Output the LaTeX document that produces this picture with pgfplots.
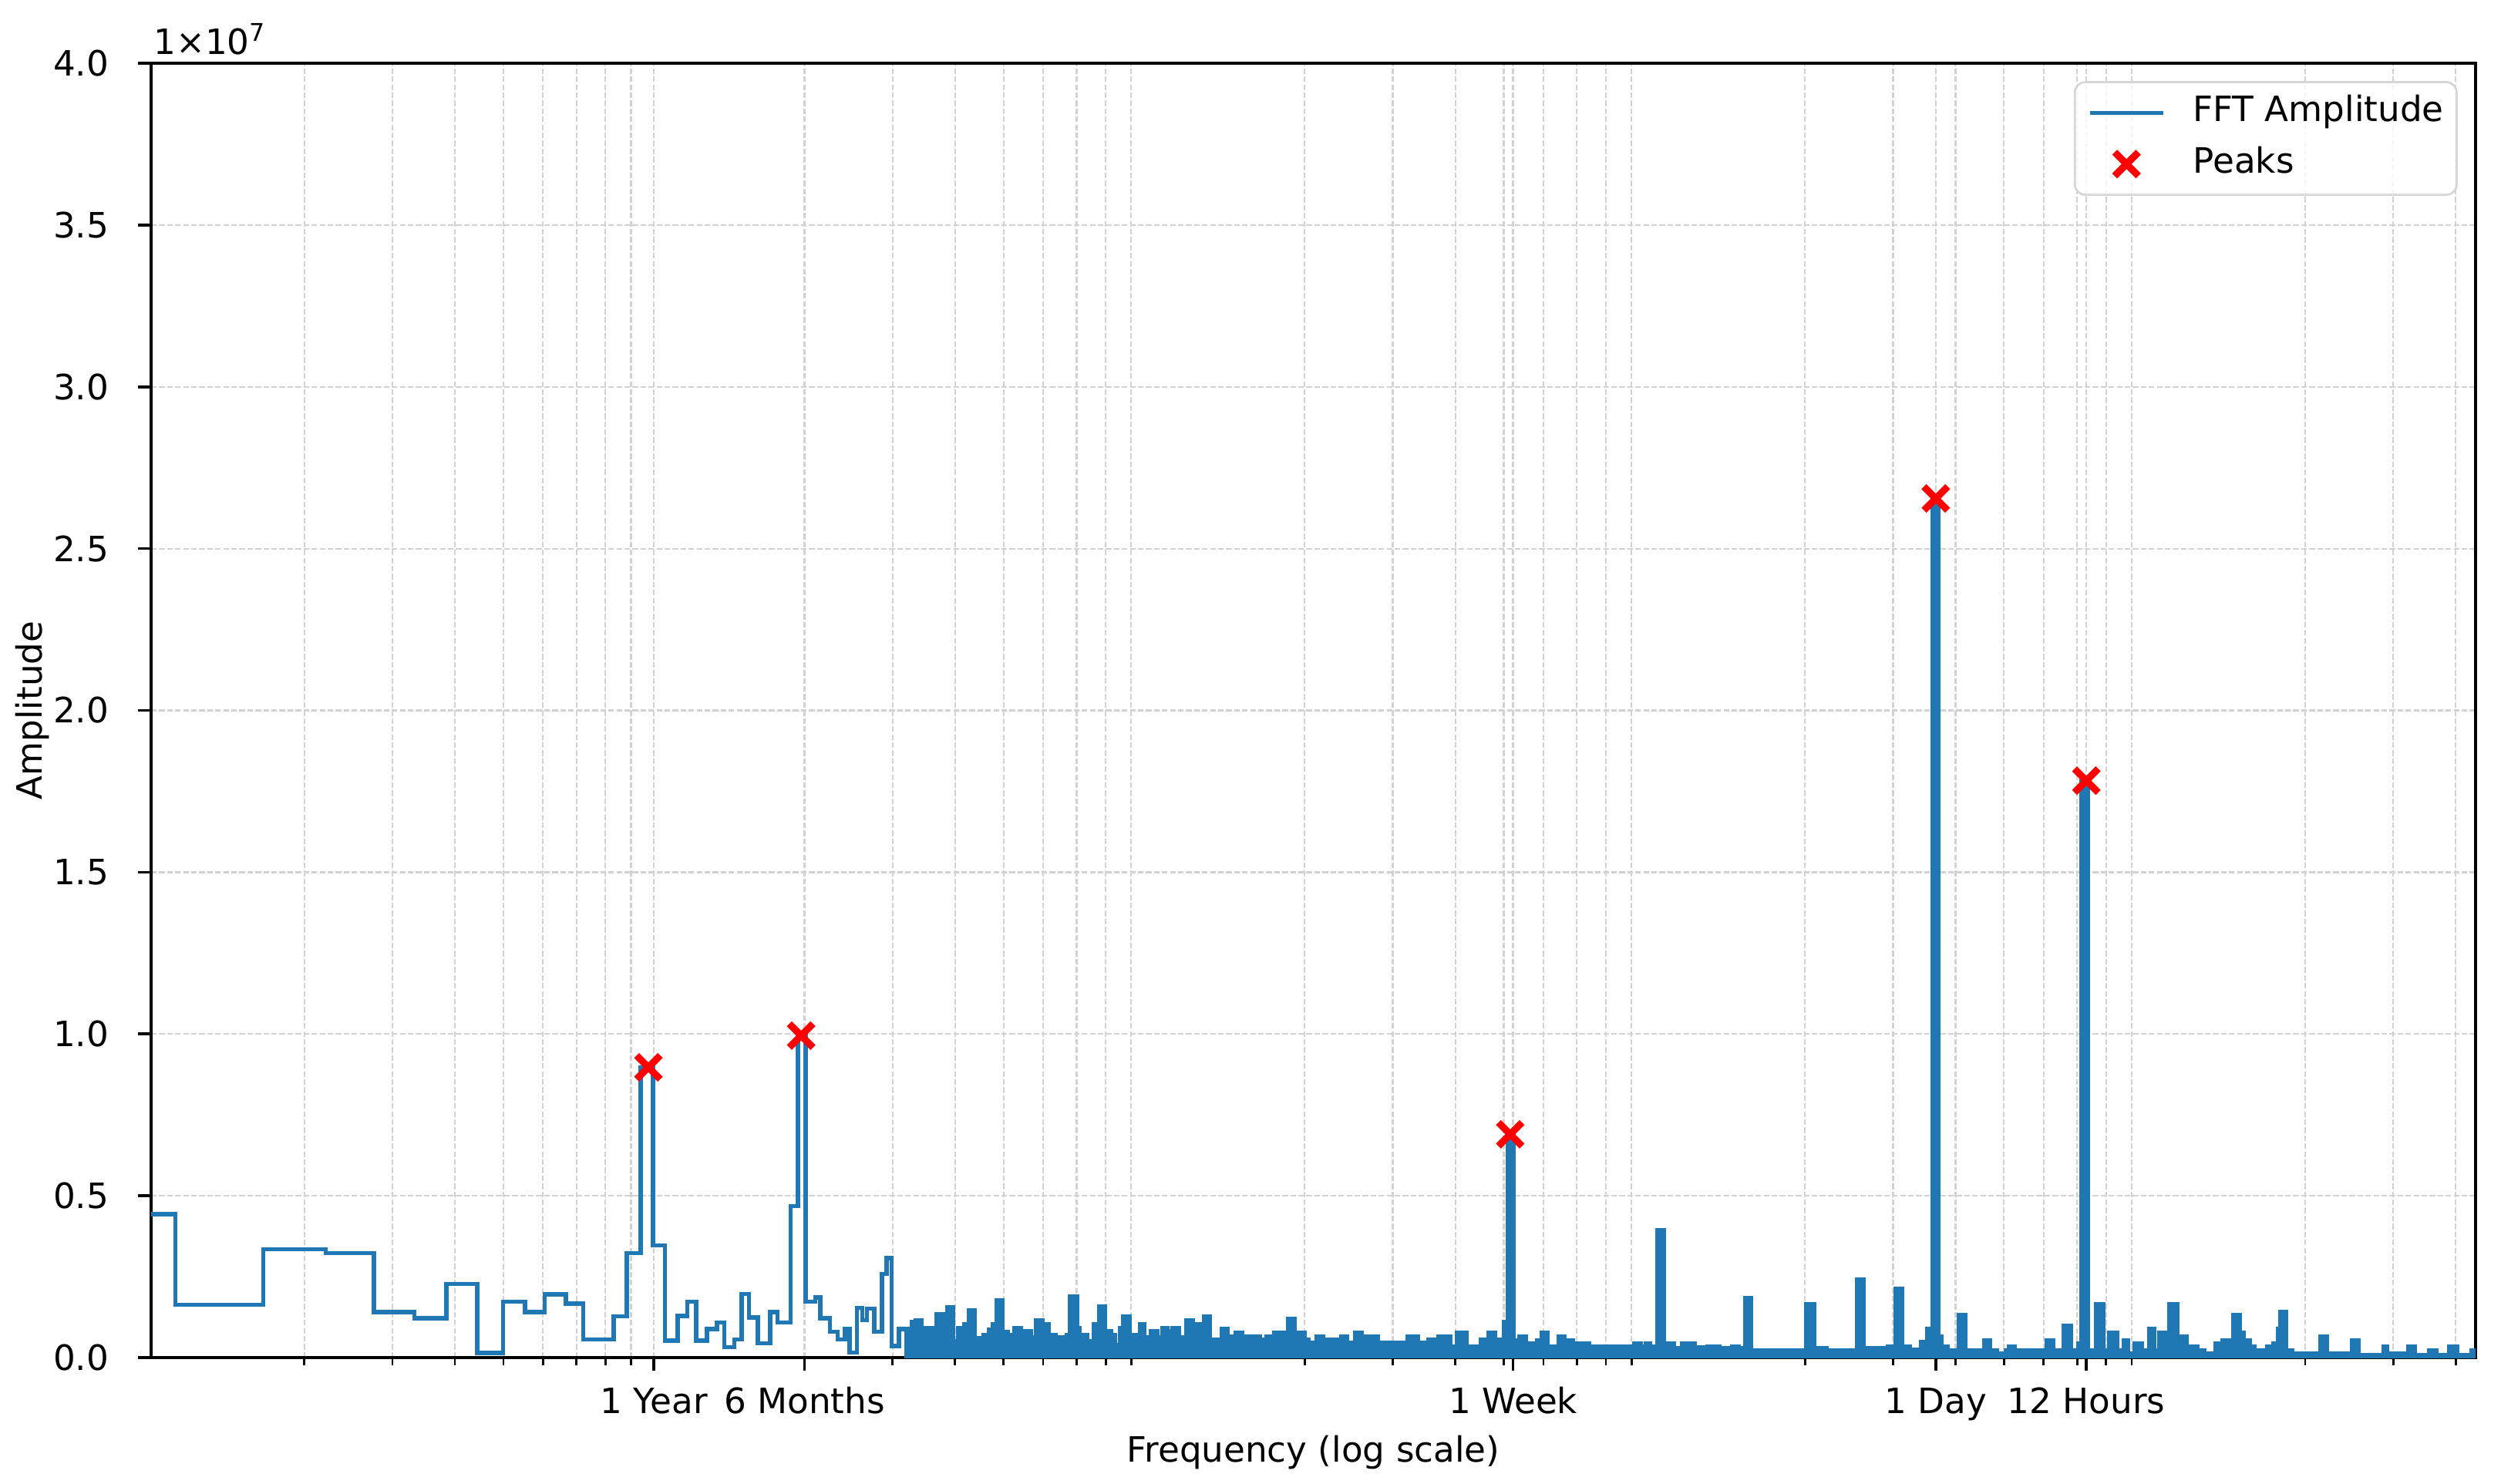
\documentclass[border=0pt]{standalone}
\usepackage{fontspec}
\setmainfont{DejaVu Sans}
\usepackage{pgfplots}
\pgfplotsset{compat=1.18}
\definecolor{mplblue}{HTML}{1F77B4}
\definecolor{gridc}{HTML}{D2D2D2}
\definecolor{legedge}{HTML}{D6D6D6}
\pgfplotsset{
  linelegend/.style={legend image code/.code={\draw[##1] (0cm,0cm) -- (0.74cm,0cm);}},
  marklegend/.style={legend image code/.code={\draw[##1] plot coordinates {(0.37cm,0cm)};}},
}
\begin{document}
\begin{tikzpicture}
\path[use as bounding box] (-1.5226cm,-1.2662cm) rectangle (23.677cm,13.680cm);
\begin{axis}[
  name=ax,
  at={(0,0)}, anchor=south west,
  scale only axis, width=23.421cm, height=13.043cm,
  xmode=log, xmin=0.0988, xmax=4383,
  ymin=0, ymax=4,
  xtick={1,2,52.18,365.25,730.5},
  xticklabels={1 Year,6 Months,1 Week,1 Day,12 Hours},
  minor xtick={0.2,0.3,0.4,0.5,0.6,0.7,0.8,0.9,3,4,5,6,7,8,9,20,30,40,50,60,70,80,90,200,300,400,500,600,700,800,900,2000,3000,4000},
  ytick={0,0.5,1,1.5,2,2.5,3,3.5,4},
  yticklabels={0.0,0.5,1.0,1.5,2.0,2.5,3.0,3.5,4.0},
  grid=both,
  major grid style={color=gridc, dash pattern=on 1.6pt off 0.7pt, line width=0.5pt},
  minor grid style={color=gridc, dash pattern=on 1.6pt off 0.7pt, line width=0.5pt},
  tick pos=left, tick align=outside,
  major tick length=0.13cm, minor tick length=0.08cm,
  major tick style={black, line width=0.8pt},
  minor tick style={black, line width=0.6pt},
  axis line style={black, line width=0.8pt},
  xticklabel style={inner sep=0pt, anchor=base, yshift=-0.43cm},
  yticklabel style={inner sep=0pt, anchor=east, xshift=-0.291cm},
  xlabel={Frequency (log scale)},
  ylabel={Amplitude},
  xlabel style={at={(axis description cs:0.5,-0.0808)}, anchor=base, inner sep=0pt},
  ylabel style={at={(axis description cs:-0.0511,0.5)}, anchor=center, inner sep=0pt},
  legend style={at={(1,1)}, anchor=north east, xshift=-0.18cm, yshift=-0.18cm,
    draw=legedge, line width=0.6pt, rounded corners=3pt, fill=white, fill opacity=0.8, text opacity=1,
    inner xsep=0.13cm, inner ysep=3.8pt, row sep=4.7pt, column sep=0.28cm,
    nodes={inner sep=0pt, text height=7.5pt, text depth=2.5pt}},
  legend cell align=left,
]
\addplot[const plot, mplblue, line width=1.2pt, linelegend] table {
x y
0.0988 0.443
0.1106 0.163
0.1655 0.335
0.2207 0.323
0.2756 0.141
0.3319 0.122
0.3845 0.227
0.4433 0.014
0.4989 0.173
0.5525 0.141
0.6047 0.195
0.6667 0.167
0.7216 0.056
0.8304 0.128
0.8828 0.323
0.9407 0.897
0.9954 0.347
1.053 0.053
1.115 0.129
1.166 0.173
1.215 0.053
1.277 0.088
1.336 0.109
1.382 0.032
1.447 0.056
1.497 0.197
1.548 0.124
1.613 0.044
1.707 0.141
1.766 0.108
1.877 0.468
1.942 0.995
2.009 0.173
2.102 0.186
2.150 0.122
2.250 0.080
2.328 0.056
2.408 0.088
2.463 0.016
2.548 0.154
2.607 0.116
2.667 0.152
2.759 0.080
2.855 0.259
2.920 0.307
2.987 0.036
3.090 0.088
3.197 0.090
};
\addlegendentry{FFT Amplitude}
\addplot[const plot, draw=mplblue, fill=mplblue, line width=1.2pt, forget plot] table {
x y
3.197 0.090
3.216 0.046
3.282 0.110
3.341 0.114
3.433 0.082
3.494 0.092
3.612 0.050
3.672 0.135
3.787 0.050
3.864 0.156
3.970 0.050
4.051 0.092
4.173 0.104
4.264 0.146
4.375 0.060
4.479 0.058
4.560 0.070
4.669 0.086
4.752 0.104
4.838 0.178
4.971 0.080
5.103 0.070
5.256 0.092
5.414 0.066
5.511 0.082
5.675 0.062
5.812 0.114
5.987 0.104
6.166 0.070
6.353 0.062
6.699 0.070
6.778 0.190
7.024 0.092
7.107 0.070
7.364 0.050
7.586 0.104
7.768 0.157
7.982 0.082
8.193 0.070
8.340 0.040
8.540 0.092
8.673 0.126
8.922 0.070
9.385 0.104
9.555 0.062
9.842 0.082
10.14 0.062
10.38 0.092
10.63 0.082
10.88 0.092
11.21 0.062
11.61 0.114
11.96 0.062
12.11 0.104
12.32 0.062
12.57 0.128
12.92 0.056
13.63 0.088
14.04 0.056
14.29 0.066
14.55 0.077
14.98 0.066
15.52 0.056
15.80 0.066
16.28 0.056
16.76 0.066
17.37 0.077
18.21 0.056
18.54 0.120
19.10 0.066
19.44 0.077
20.02 0.056
20.38 0.046
21.12 0.066
21.75 0.056
23.63 0.066
24.34 0.046
25.22 0.077
25.98 0.046
26.44 0.066
26.76 0.046
27.24 0.066
28.05 0.046
32.14 0.066
33.70 0.046
35.34 0.056
37.05 0.066
39.07 0.034
40.25 0.077
42.20 0.034
45.03 0.056
46.67 0.077
48.08 0.056
50.10 0.110
50.90 0.690
52.30 0.054
53.8 0.066
55.4 0.044
57.44 0.034
58.3 0.054
59.6 0.076
61.05 0.034
64.33 0.066
66.2 0.054
68.85 0.044
74.04 0.034
75.9 0.024
76.8 0.034
91.3 0.044
94.0 0.034
96.1 0.044
98.2 0.034
101.4 0.395
104.4 0.044
109.5 0.030
113.5 0.044
120.3 0.032
127.5 0.034
135.1 0.030
143.2 0.034
147.4 0.030
151.7 0.185
156.1 0.022
201.3 0.165
208.7 0.030
221.1 0.022
253.8 0.241
262.4 0.030
293.3 0.034
303.3 0.213
313.1 0.034
324.7 0.024
341.6 0.048
351.6 0.088
359.3 2.655
369.8 0.066
375.2 0.034
386.3 0.022
406.4 0.133
418.3 0.022
456.3 0.054
469.7 0.022
483.5 0.012
503.6 0.022
510.9 0.034
526.0 0.022
607.9 0.054
627.7 0.022
658.4 0.098
680.8 0.022
704.8 0.044
715.1 1.783
736.2 0.022
763.3 0.164
789.2 0.022
812.5 0.076
842.4 0.022
867.2 0.054
886.3 0.012
912.4 0.044
941.9 0.022
973.9 0.088
998.2 0.022
1021.6 0.076
1054.6 0.022
1070 0.164
1109.5 0.022
1125.7 0.066
1158.8 0.034
1219 0.022
1258.7 0.012
1326 0.044
1365 0.054
1409 0.022
1434 0.132
1483 0.076
1509 0.054
1549 0.034
1583 0.022
1677 0.034
1726 0.044
1764 0.088
1782 0.141
1829 0.022
1883 0.012
2146 0.066
2209 0.012
2480 0.054
2553 0.008
2867 0.034
2917 0.012
3219 0.034
3314 0.008
3537 0.022
3657 0.008
3887 0.034
4030 0.008
4301 0.022
4383 0.022
} \closedcycle;
\addplot[only marks, mark=x, mark size=4.8pt, red, line width=2pt, marklegend] table {
x y
0.975 0.897
1.97 0.995
51.5 0.690
365.25 2.655
730.5 1.783
};
\addlegendentry{Peaks}
\end{axis}
\node[anchor=base west, inner sep=0pt] at ([xshift=0.02cm, yshift=0.093cm]ax.north west) {1×10\textsuperscript{7}};
\end{tikzpicture}
\end{document}
